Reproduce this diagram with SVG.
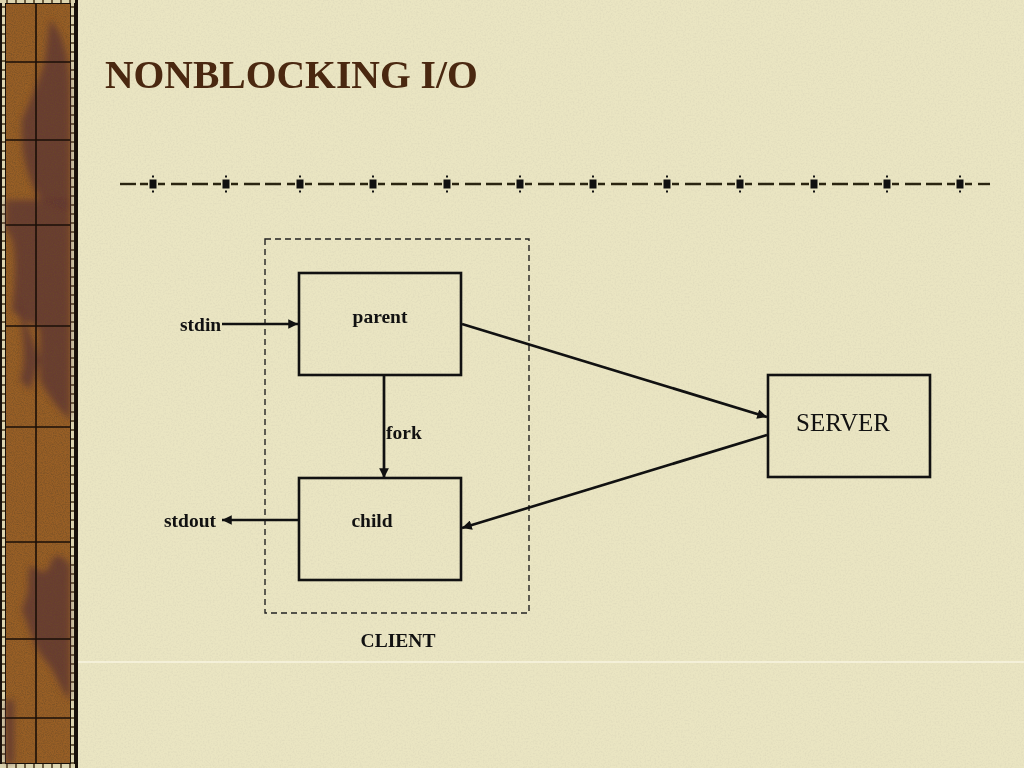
<svg xmlns="http://www.w3.org/2000/svg" xmlns:xlink="http://www.w3.org/1999/xlink" width="1024" height="768" viewBox="0 0 1024 768">
<defs>
<style>
.lbl{font-family:"Liberation Serif","Times New Roman",serif;font-weight:bold;font-size:19.5px;fill:#111;}
.srv{font-family:"Liberation Serif","Times New Roman",serif;font-size:25px;fill:#111;}
.title{font-family:"Liberation Serif","Times New Roman",serif;font-weight:bold;font-size:39.6px;fill:#4a2810;}
.box{fill:none;stroke:#111;stroke-width:2.6;}
.conn{fill:none;stroke:#111;stroke-width:2.7;}
.grid{stroke:#1a0f08;stroke-width:1.6;}
.blob{fill:#5c3535;opacity:0.8;}
.dash{stroke:#2a2410;stroke-width:2.4;}
</style>
<marker id="arr" viewBox="0 0 10 10" refX="10" refY="5" markerWidth="3.8" markerHeight="3.6" orient="auto" markerUnits="strokeWidth">
<path d="M0,0 L10,5 L0,10 Z" fill="#111"/>
</marker>
<filter id="speck" x="0" y="0" width="1" height="1">
<feTurbulence type="fractalNoise" baseFrequency="0.9" numOctaves="2" seed="3" result="n"/>
<feColorMatrix in="n" type="matrix" values="0 0 0 0 0.15  0 0 0 0 0.07  0 0 0 0 0.02  0 0 0 -2.2 1.35"/>
<feComposite in2="SourceGraphic" operator="in"/>
</filter>
<filter id="paper" x="0" y="0" width="1" height="1">
<feTurbulence type="fractalNoise" baseFrequency="0.6" numOctaves="2" seed="7" result="n"/>
<feColorMatrix in="n" type="matrix" values="0 0 0 0 0.55  0 0 0 0 0.52  0 0 0 0 0.4  0 0 0 -0.5 0.3"/>
<feComposite in2="SourceGraphic" operator="in"/>
</filter>
<filter id="soft"><feGaussianBlur stdDeviation="3"/></filter>
<pattern id="film" width="6" height="9" patternUnits="userSpaceOnUse">
<rect width="6" height="9" fill="#ddd5b0"/>
<rect y="6" width="6" height="2" fill="#6a5c40"/>
</pattern>
<pattern id="filmh" width="9" height="6" patternUnits="userSpaceOnUse">
<rect width="9" height="6" fill="#ddd5b0"/>
<rect x="6" width="2" height="6" fill="#6a5c40"/>
</pattern>
<g id="sq">
<rect x="-3.5" y="179.5" width="7" height="9" fill="#111"/>
<rect x="-1" y="175.5" width="2" height="2" fill="#111"/>
<rect x="-1" y="190.5" width="2" height="2" fill="#111"/>
<path class="dash" d="M-13,184 H-5 M5,184 H12"/>
</g>
<g id="tick">
<use xlink:href="#sq"/>
<path class="dash" d="M18,184 H34 M39,184 H55"/>
</g>
</defs>

<!-- background -->
<rect width="1024" height="768" fill="#eae5c2"/>
<rect x="78" width="946" height="768" fill="#eae5c2" filter="url(#paper)"/>
<line x1="78" y1="662" x2="1024" y2="662" stroke="#f8f4e0" stroke-width="1.5"/>

<!-- left decorative strip -->
<g id="strip">
<rect x="0" y="0" width="78" height="768" fill="#17100a"/>
<rect x="2" y="0" width="3" height="768" fill="url(#film)"/>
<rect x="71" y="0" width="3" height="768" fill="url(#film)"/>
<rect x="0" y="0" width="75" height="3" fill="url(#filmh)"/>
<rect x="0" y="764" width="75" height="4" fill="url(#filmh)"/>
<rect x="6" y="4" width="64" height="759" fill="#985f26"/>
<g filter="url(#soft)">
<path class="blob" d="M50,20 C62,30 70,60 70,90 L70,210 L40,200 C30,180 20,160 22,120 C30,100 40,80 45,60 Z"/>
<path class="blob" d="M6,200 L70,200 L70,420 C60,410 50,400 40,380 L40,330 C30,320 20,320 12,310 C14,290 20,240 6,230 Z"/>
<path class="blob" d="M18,300 C22,330 28,360 20,380 L30,390 L40,360 Z"/>
<path class="blob" d="M30,565 C40,570 45,580 52,560 C58,550 65,560 70,565 L70,700 C60,690 55,670 45,660 C35,650 30,630 22,610 C25,600 30,590 28,580 Z"/>
<path class="blob" d="M6,700 L14,700 L14,763 L6,763 Z"/>
</g>
<rect x="6" y="4" width="64" height="759" fill="#000" filter="url(#speck)" opacity="0.6"/>
<line class="grid" x1="36" y1="4" x2="36" y2="763"/>
<line class="grid" x1="6" y1="62" x2="70" y2="62"/>
<line class="grid" x1="6" y1="140" x2="70" y2="140"/>
<line class="grid" x1="6" y1="225" x2="70" y2="225"/>
<line class="grid" x1="6" y1="326" x2="70" y2="326"/>
<line class="grid" x1="6" y1="427" x2="70" y2="427"/>
<line class="grid" x1="6" y1="542" x2="70" y2="542"/>
<line class="grid" x1="6" y1="639" x2="70" y2="639"/>
<line class="grid" x1="6" y1="718" x2="70" y2="718"/>
</g>

<!-- title -->
<text class="title" x="105" y="88">NONBLOCKING I/O</text>

<!-- divider -->
<g id="divider">
<path class="dash" d="M120,184 H136"/>
<use xlink:href="#tick" x="153"/>
<use xlink:href="#tick" x="226"/>
<use xlink:href="#tick" x="300"/>
<use xlink:href="#tick" x="373"/>
<use xlink:href="#tick" x="447"/>
<use xlink:href="#tick" x="520"/>
<use xlink:href="#tick" x="593"/>
<use xlink:href="#tick" x="667"/>
<use xlink:href="#tick" x="740"/>
<use xlink:href="#tick" x="814"/>
<use xlink:href="#tick" x="887"/>
<use xlink:href="#sq" x="960"/>
<path class="dash" d="M978,184 H990"/>
</g>

<!-- client boundary -->
<g id="client">
<rect x="265" y="239" width="264" height="374" fill="none" stroke="#222" stroke-width="1.4" stroke-dasharray="6,4"/>
<text class="lbl" x="398" y="647" text-anchor="middle">CLIENT</text>
</g>

<g id="parent">
<rect class="box" x="299" y="273" width="162" height="102"/>
<text class="lbl" x="380" y="323" text-anchor="middle">parent</text>
</g>

<g id="child">
<rect class="box" x="299" y="478" width="162" height="102"/>
<text class="lbl" x="372" y="527" text-anchor="middle">child</text>
</g>

<g id="server">
<rect class="box" x="768" y="375" width="162" height="102"/>
<text class="srv" x="843" y="431" text-anchor="middle">SERVER</text>
</g>

<g id="stdin"><text class="lbl" x="180" y="331">stdin</text></g>
<g id="stdout"><text class="lbl" x="164" y="527">stdout</text></g>

<g id="connectors">
<line class="conn" x1="222" y1="324" x2="298" y2="324" marker-end="url(#arr)"/>
<line class="conn" x1="298" y1="520" x2="222" y2="520" marker-end="url(#arr)"/>
<line class="conn" x1="384" y1="376" x2="384" y2="478" marker-end="url(#arr)"/>
<text class="lbl" x="386" y="439">fork</text>
<line class="conn" x1="462" y1="324" x2="767" y2="417" marker-end="url(#arr)"/>
<line class="conn" x1="767" y1="435" x2="462" y2="528" marker-end="url(#arr)"/>
</g>
</svg>
